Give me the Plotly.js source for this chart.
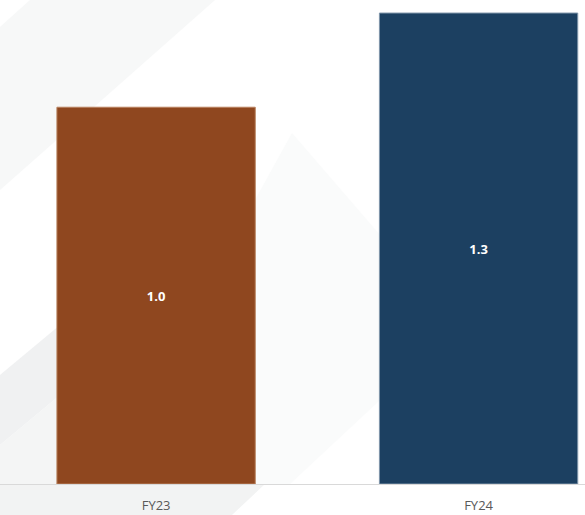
<!DOCTYPE html>
<html>
<head>
<meta charset="utf-8">
<script src="https://cdn.plot.ly/plotly-3.0.1.min.js"></script>
<style>html,body{margin:0;padding:0;background:#fff;}#chart{width:585px;height:515px;}</style>
</head>
<body>
<div id="chart"></div>
<script>
const categories = ["FY23", "FY24"];
const values = [1.04, 1.30];
const barColors = ["#8F471F", "#1C4061"];
const barEdgeColors = ["#b9825f", "#7f95aa"];

const trace = {
  type: "bar",
  x: categories,
  y: values,
  marker: { color: barColors, line: { width: 1, color: barEdgeColors } },
  width: 0.615,
  texttemplate: "%{y:.1f}",
  textposition: "inside",
  insidetextanchor: "middle",
  textfont: { family: "Open Sans, sans-serif", size: 13, color: "#ffffff", weight: "bold" },
  hoverinfo: "skip"
};

// decorative background polygons (pixel coords converted to paper fractions)
const W = 585, PH = 484;
function poly(points, color) {
  const d = points.map((p, i) => (i ? "L " : "M ") + (p[0] / W).toFixed(4) + " " + ((PH - p[1]) / PH).toFixed(4)).join(" ") + " Z";
  return { type: "path", xref: "paper", yref: "paper", path: d, fillcolor: color, line: { width: 0 }, layer: "below" };
}
const bgShapes = [
  poly([[0, 27], [30, 0], [215, 0], [0, 190]], "#f7f8f8"),
  poly([[0, 375], [60, 325], [60, 395], [0, 445]], "#f0f1f2"),
  poly([[0, 445], [60, 395], [60, 484], [0, 484]], "#f4f5f5"),
  poly([[255, 200], [292, 133], [380, 235], [380, 400], [290, 484], [255, 484]], "#fafbfb"),
  poly([[0, 484], [265, 484], [232, 515], [0, 515]], "#f2f3f3")
];

const layout = {
  width: 585,
  height: 515,
  margin: { l: 0, r: 0, t: 0, b: 31, pad: 0 },
  paper_bgcolor: "#ffffff",
  plot_bgcolor: "rgba(0,0,0,0)",
  showlegend: false,
  shapes: bgShapes,
  xaxis: {
    range: [-0.484, 1.330],
    showgrid: false,
    zeroline: false,
    showline: true,
    linecolor: "#d9d9d9",
    linewidth: 1,
    ticks: "",
    ticklabelstandoff: 9,
    tickfont: { family: "Open Sans, sans-serif", size: 13, color: "#595959" },
    fixedrange: true
  },
  yaxis: {
    range: [0, 1.336],
    visible: false,
    showgrid: false,
    zeroline: false,
    fixedrange: true
  },
  font: { family: "Open Sans, sans-serif" }
};

Plotly.newPlot("chart", [trace], layout, { displayModeBar: false, staticPlot: true });
</script>
</body>
</html>
